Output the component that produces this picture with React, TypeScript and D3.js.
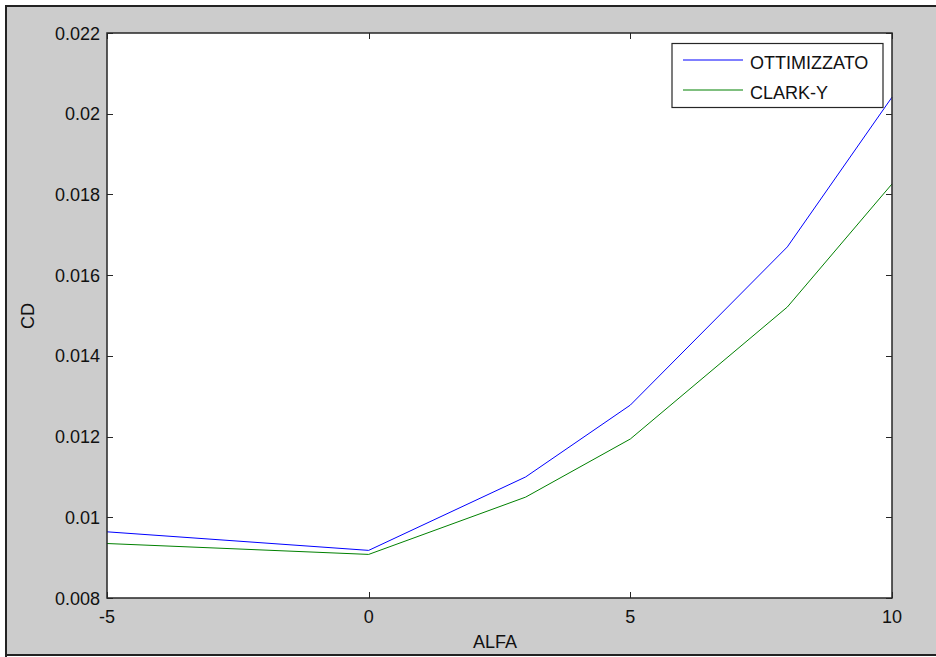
import React, { useEffect, useRef } from 'react';
import * as d3 from 'd3';

const alfa = [-5, 0, 3, 5, 8, 10];
const cdOttimizzato = [0.00964, 0.00918, 0.01100, 0.01278, 0.01670, 0.02041];
const cdClarkY = [0.00935, 0.00908, 0.01050, 0.01194, 0.01521, 0.01826];
const seriesNames = ['OTTIMIZZATO', 'CLARK-Y'];
const seriesColors = ['#0000ff', '#008000'];
const xTicks = [-5, 0, 5, 10];
const yTicks = [0.008, 0.01, 0.012, 0.014, 0.016, 0.018, 0.02, 0.022];

const W = 936;
const H = 657;
const left = 107, right = 892, top = 33, bottom = 598;

export default function App() {
  const ref = useRef<SVGSVGElement>(null);

  useEffect(() => {
    const svg = d3.select(ref.current);
    svg.selectAll('*').remove();

    // figure background + frame
    svg.append('rect').attr('width', W).attr('height', H).attr('fill', '#fff');
    svg.append('rect').attr('x', 6).attr('y', 6).attr('width', W - 6).attr('height', 649)
      .attr('fill', '#cccccc');
    svg.append('path').attr('d', `M6,${H} L6,6 L${W},6`).attr('stroke', '#222')
      .attr('stroke-width', 2).attr('fill', 'none');
    svg.append('line').attr('x1', 6).attr('x2', W).attr('y1', 655).attr('y2', 655)
      .attr('stroke', '#222').attr('stroke-width', 2);

    const x = d3.scaleLinear().domain([-5, 10]).range([left, right]);
    const y = d3.scaleLinear().domain([0.008, 0.022]).range([bottom, top]);

    svg.append('rect').attr('x', left).attr('y', top).attr('width', right - left)
      .attr('height', bottom - top).attr('fill', '#fff');

    const font = 'Liberation Sans, Arial, sans-serif';
    const fs = 18;

    // ticks (inward, on all sides)
    const tk = svg.append('g').attr('stroke', '#262626').attr('stroke-width', 1);
    xTicks.forEach(t => {
      const px = Math.round(x(t)) + 0.5;
      tk.append('line').attr('x1', px).attr('x2', px).attr('y1', bottom).attr('y2', bottom - 6);
      tk.append('line').attr('x1', px).attr('x2', px).attr('y1', top).attr('y2', top + 6);
    });
    yTicks.forEach(t => {
      const py = Math.round(y(t)) + 0.5;
      tk.append('line').attr('x1', left).attr('x2', left + 6).attr('y1', py).attr('y2', py);
      tk.append('line').attr('x1', right).attr('x2', right - 6).attr('y1', py).attr('y2', py);
    });

    svg.append('g').selectAll('text').data(xTicks).enter().append('text')
      .attr('x', d => x(d)).attr('y', 623).attr('text-anchor', 'middle')
      .attr('font-family', font).attr('font-size', fs).attr('fill', '#111')
      .text(d => String(d));
    svg.append('g').selectAll('text').data(yTicks).enter().append('text')
      .attr('x', 100).attr('y', d => y(d) + 6.5).attr('text-anchor', 'end')
      .attr('font-family', font).attr('font-size', fs).attr('fill', '#111')
      .text(d => d3.format('')(+d.toFixed(3)));

    svg.append('text').attr('x', 495).attr('y', 648).attr('text-anchor', 'middle')
      .attr('font-family', font).attr('font-size', fs).attr('fill', '#111').text('ALFA');
    svg.append('text').attr('transform', 'translate(34,316) rotate(-90)')
      .attr('text-anchor', 'middle').attr('font-family', font).attr('font-size', fs)
      .attr('fill', '#111').text('CD');

    const line = d3.line<number>().x((_, i) => x(alfa[i])).y(d => y(d));
    [cdOttimizzato, cdClarkY].forEach((s, i) => {
      svg.append('path').attr('d', line(s)).attr('fill', 'none')
        .attr('stroke', seriesColors[i]).attr('stroke-width', 1);
    });

    // axes box
    svg.append('rect').attr('x', left).attr('y', top).attr('width', right - left)
      .attr('height', bottom - top).attr('fill', 'none').attr('stroke', '#262626')
      .attr('stroke-width', 1.5);

    // legend
    const lg = svg.append('g');
    lg.append('rect').attr('x', 672).attr('y', 43.5).attr('width', 211).attr('height', 64)
      .attr('fill', '#fff').attr('stroke', '#262626').attr('stroke-width', 1.2);
    seriesNames.forEach((n, i) => {
      const ly = 60 + i * 30;
      lg.append('line').attr('x1', 683).attr('x2', 743).attr('y1', ly).attr('y2', ly)
        .attr('stroke', seriesColors[i]).attr('stroke-width', 1);
      lg.append('text').attr('x', 750).attr('y', ly + 8.5).attr('font-family', font)
        .attr('font-size', fs).attr('fill', '#111').text(n);
    });
  }, []);

  return (
    <svg ref={ref} width={W} height={H}
      style={{ position: 'absolute', left: 0, top: 0, display: 'block' }} />
  );
}
